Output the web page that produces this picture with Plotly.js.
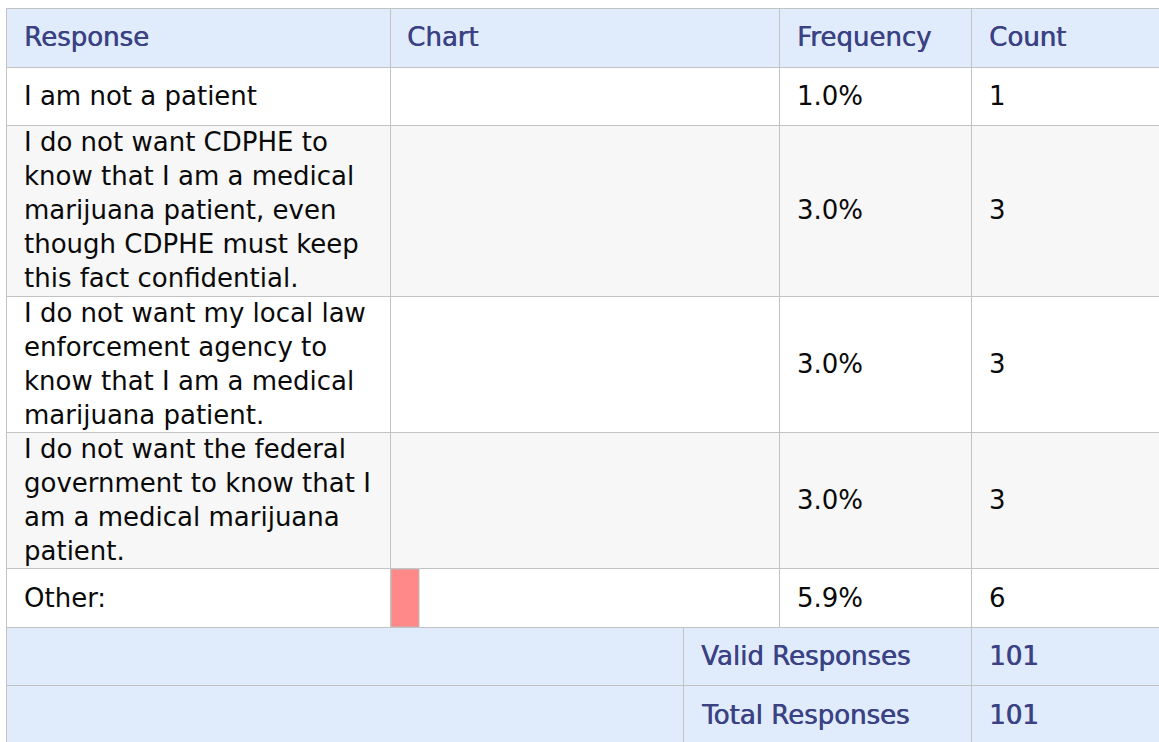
<!DOCTYPE html>
<html>
<head>
<meta charset="utf-8">
<script src="https://cdn.plot.ly/plotly-3.0.1.min.js"></script>
<style>html,body{margin:0;padding:0;background:#fff;}#chart{width:1159px;height:742px;}</style>
</head>
<body>
<div id="chart"></div>
<script>
// ---- data ----
const headers = ["Response", "Chart", "Frequency", "Count"];
const responses = [
  "I am not a patient",
  "I do not want CDPHE to<br>know that I am a medical<br>marijuana patient, even<br>though CDPHE must keep<br>this fact confidential.",
  "I do not want my local law<br>enforcement agency to<br>know that I am a medical<br>marijuana patient.",
  "I do not want the federal<br>government to know that I<br>am a medical marijuana<br>patient.",
  "Other:"
];
const frequencyPct = [1.0, 3.0, 3.0, 3.0, 5.9];
const counts = [1, 3, 3, 3, 6];
const footerLabels = ["Valid Responses", "Total Responses"];
const footerValues = [101, 101];
const barRows = ["Other:"];          // only this row shows a bar in the chart column
const barValues = [5.9];

// ---- layout geometry (pixels) ----
const W = 1159, H = 742;
const colX = [6, 390, 779, 971, 1165];
const rowY = [8, 67, 125, 296, 432, 568, 627, 685, 745];
const footDiv = 683;
const px = x => x / W;
const py = y => 1 - y / H;

const FONT = "'DejaVu Sans', Verdana, sans-serif";
const FS = 26;
const BLUE_BG = "#e0ebfc";
const HEAD_TXT = "#3a4283";
const BORDER = "#c3c3c3";

const shapes = [];
const annotations = [];
function rect(x0, y0, x1, y1, fill) {
  shapes.push({type: "rect", xref: "paper", yref: "paper", layer: "below",
    x0: px(x0), x1: px(x1), y0: py(y1), y1: py(y0), fillcolor: fill, line: {width: 0}});
}
function line(x0, y0, x1, y1) {
  shapes.push({type: "line", xref: "paper", yref: "paper", layer: "above",
    x0: px(x0), x1: px(x1), y0: py(y0), y1: py(y1), line: {color: BORDER, width: 1}});
}
function text(x, y, t, opts) {
  opts = opts || {};
  const c = opts.color || "#0a0a0a";
  annotations.push({xref: "paper", yref: "paper", x: px(x), y: py(y), text: t,
    showarrow: false, xanchor: "left", yanchor: "middle", align: "left",
    font: {family: FONT, size: FS, color: c, shadow: opts.heavy ? ("0.6px 0 0 " + c) : "none"}});
}

// backgrounds
rect(colX[0], rowY[0], W + 10, rowY[1], BLUE_BG);
const rowFill = ["#ffffff", "#f7f7f7", "#ffffff", "#f7f7f7", "#ffffff"];
for (let i = 0; i < 5; i++) rect(colX[0], rowY[i + 1], W + 10, rowY[i + 2], rowFill[i]);
rect(colX[0], rowY[6], W + 10, rowY[8], BLUE_BG);

// borders
for (let i = 0; i < rowY.length - 1; i++) line(colX[0], rowY[i] + 0.5, W + 10, rowY[i] + 0.5);
line(colX[0] + 0.5, rowY[0], colX[0] + 0.5, H + 5);
line(colX[1] + 0.5, rowY[0], colX[1] + 0.5, rowY[6]);
line(colX[2] + 0.5, rowY[0], colX[2] + 0.5, rowY[6]);
line(colX[3] + 0.5, rowY[0], colX[3] + 0.5, H + 5);
line(footDiv + 0.5, rowY[6], footDiv + 0.5, H + 5);

// header text
const headX = [22, 405, 795, 987];
headers.forEach((h, i) => text(headX[i], (rowY[0] + rowY[1]) / 2, h, {color: HEAD_TXT, heavy: true}));

// body text
const LH = 34;
responses.forEach((r, i) => {
  const top = rowY[i + 1], bot = rowY[i + 2];
  const lines = r.split("<br>");
  if (lines.length === 1) {
    text(22, (top + bot) / 2, lines[0]);
  } else {
    lines.forEach((l, k) => text(22, top + LH / 2 + k * LH, l));
  }
  const mid = (top + bot) / 2;
  text(795, mid, frequencyPct[i].toFixed(1) + "%");
  text(987, mid, String(counts[i]));
});

// footer
footerLabels.forEach((f, i) => {
  const mid = (rowY[6 + i] + rowY[7 + i]) / 2;
  text(699, mid, f, {color: HEAD_TXT, heavy: true});
  text(987, mid, String(footerValues[i]), {color: HEAD_TXT, heavy: true});
});

// bar trace in chart column, "Other" row
const trace = {
  type: "bar", orientation: "h", x: barValues, y: barRows,
  marker: {color: "#ff8888", line: {color: "#bdbdbd", width: 1}},
  hoverinfo: "skip", width: 1
};

const layout = {
  width: W, height: H,
  margin: {l: 0, r: 0, t: 0, b: 0},
  paper_bgcolor: "#ffffff", plot_bgcolor: "rgba(0,0,0,0)",
  showlegend: false, bargap: 0,
  xaxis: {domain: [px(391), px(779)], range: [0, 81.8], visible: false, fixedrange: true},
  yaxis: {domain: [py(rowY[6]), py(rowY[5] + 1)], range: [-0.5, 0.5], visible: false, fixedrange: true, type: "category"},
  shapes: shapes,
  annotations: annotations
};

Plotly.newPlot("chart", [trace], layout, {displayModeBar: false, staticPlot: true});
</script>
</body>
</html>
